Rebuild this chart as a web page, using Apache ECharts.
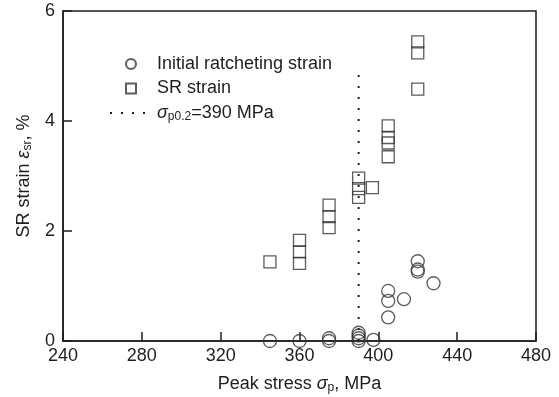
<!DOCTYPE html>
<html>
<head>
<meta charset="utf-8">
<script src="https://cdn.jsdelivr.net/npm/echarts@6/dist/echarts.min.js"></script>
<style>
html,body{margin:0;padding:0;background:#fff;}
#c{width:559px;height:397px;}
</style>
</head>
<body>
<div id="c"></div>
<script>
// ---- data ----
const ratchetStress = [345, 360, 375, 375, 390, 390, 390, 390, 397.5, 405, 405, 405, 413, 420, 420, 420, 428];
const ratchetStrain = [0.0, 0.0, 0.0, 0.05, 0.0, 0.05, 0.1, 0.15, 0.02, 0.91, 0.73, 0.43, 0.76, 1.45, 1.30, 1.26, 1.05];
const srStress = [345, 360, 360, 360, 375, 375, 375, 390, 390, 390, 397, 405, 405, 405, 405, 420, 420, 420];
const srStrain = [1.44, 1.83, 1.62, 1.41, 2.47, 2.26, 2.06, 2.96, 2.77, 2.61, 2.79, 3.91, 3.70, 3.60, 3.35, 5.44, 5.24, 4.58];
const yieldStress = [390, 390];
const yieldLineY = [0, 4.85];
const xTicks = [240, 280, 320, 360, 400, 440, 480];
const yTicks = [0, 2, 4, 6];

const FONT = '"Liberation Sans", Arial, sans-serif';
const INK = '#1e1e1e';

const zip = (a, b) => a.map((v, i) => [v, b[i]]);
const rich = {
  t: { fontFamily: FONT, fontSize: 18, color: INK, lineHeight: 20 },
  i: { fontFamily: FONT, fontSize: 18, fontStyle: 'italic', color: INK, lineHeight: 20 },
  s: { fontFamily: FONT, fontSize: 12, color: INK, lineHeight: 12, verticalAlign: 'bottom' }
};

const chart = echarts.init(document.getElementById('c'));
chart.setOption({
  animation: false,
  backgroundColor: '#fff',
  textStyle: { fontFamily: FONT, color: INK },
  grid: {
    left: 63, right: 23, top: 11, bottom: 56,
    containLabel: false, outerBoundsMode: 'none',
    show: true, borderColor: INK, borderWidth: 1.5, backgroundColor: 'transparent'
  },
  legend: {
    orient: 'vertical',
    left: 104,
    top: 50,
    itemWidth: 42,
    itemHeight: 10,
    itemGap: 6.5,
    data: [
      { name: 'Initial ratcheting strain', icon: 'circle' },
      { name: 'SR strain', icon: 'path://M0,0L10,0L10,10L0,10Z' },
      { name: 'yield', itemStyle: { color: 'rgba(0,0,0,0)', borderWidth: 0, opacity: 0 } }
    ],
    formatter: function (n) {
      if (n === 'yield') return '{i|σ}{s|p0.2}{t|=390 MPa}';
      return '{t|' + n + '}';
    },
    textStyle: { fontFamily: FONT, color: INK, fontSize: 18, rich: rich }
  },
  xAxis: {
    type: 'value',
    min: xTicks[0], max: xTicks[xTicks.length - 1], interval: 40,
    axisLine: { show: true, onZero: false, lineStyle: { color: INK, width: 1.5 } },
    axisTick: { show: true, inside: true, length: 9, lineStyle: { color: INK, width: 1.5 } },
    axisLabel: { fontFamily: FONT, fontSize: 18, color: INK, margin: 6 },
    splitLine: { show: false },
    name: '{t|Peak stress }{i|σ}{s|p}{t|, MPa}',
    nameLocation: 'middle',
    nameGap: 33,
    nameTextStyle: { fontFamily: FONT, fontSize: 18, color: INK, rich: rich }
  },
  yAxis: {
    type: 'value',
    min: yTicks[0], max: yTicks[yTicks.length - 1], interval: 2,
    axisLine: { show: true, onZero: false, lineStyle: { color: INK, width: 1.5 } },
    axisTick: { show: true, inside: true, length: 9, lineStyle: { color: INK, width: 1.5 } },
    axisLabel: { fontFamily: FONT, fontSize: 18, color: INK, margin: 8 },
    splitLine: { show: false },
    name: '{t|SR strain }{i|ε}{s|sr}{t|, %}',
    nameLocation: 'middle',
    nameRotate: 90,
    nameGap: 28,
    nameTextStyle: { fontFamily: FONT, fontSize: 18, color: INK, rich: rich }
  },
  series: [
    {
      name: 'yield',
      type: 'line',
      data: zip(yieldStress, yieldLineY),
      symbol: 'none',
      lineStyle: { color: INK, width: 2, type: [2, 9] },
      itemStyle: { color: INK },
      z: 1
    },
    {
      name: 'Initial ratcheting strain',
      type: 'scatter',
      data: zip(ratchetStress, ratchetStrain),
      symbol: 'circle',
      symbolSize: 13,
      itemStyle: { color: 'rgba(255,255,255,0)', borderColor: '#333', borderWidth: 1.3 },
      z: 3
    },
    {
      name: 'SR strain',
      type: 'scatter',
      data: zip(srStress, srStrain),
      symbol: 'rect',
      symbolSize: 12,
      itemStyle: { color: 'rgba(255,255,255,0)', borderColor: '#333', borderWidth: 1.3 },
      z: 3
    }
  ]
});
</script>
</body>
</html>
